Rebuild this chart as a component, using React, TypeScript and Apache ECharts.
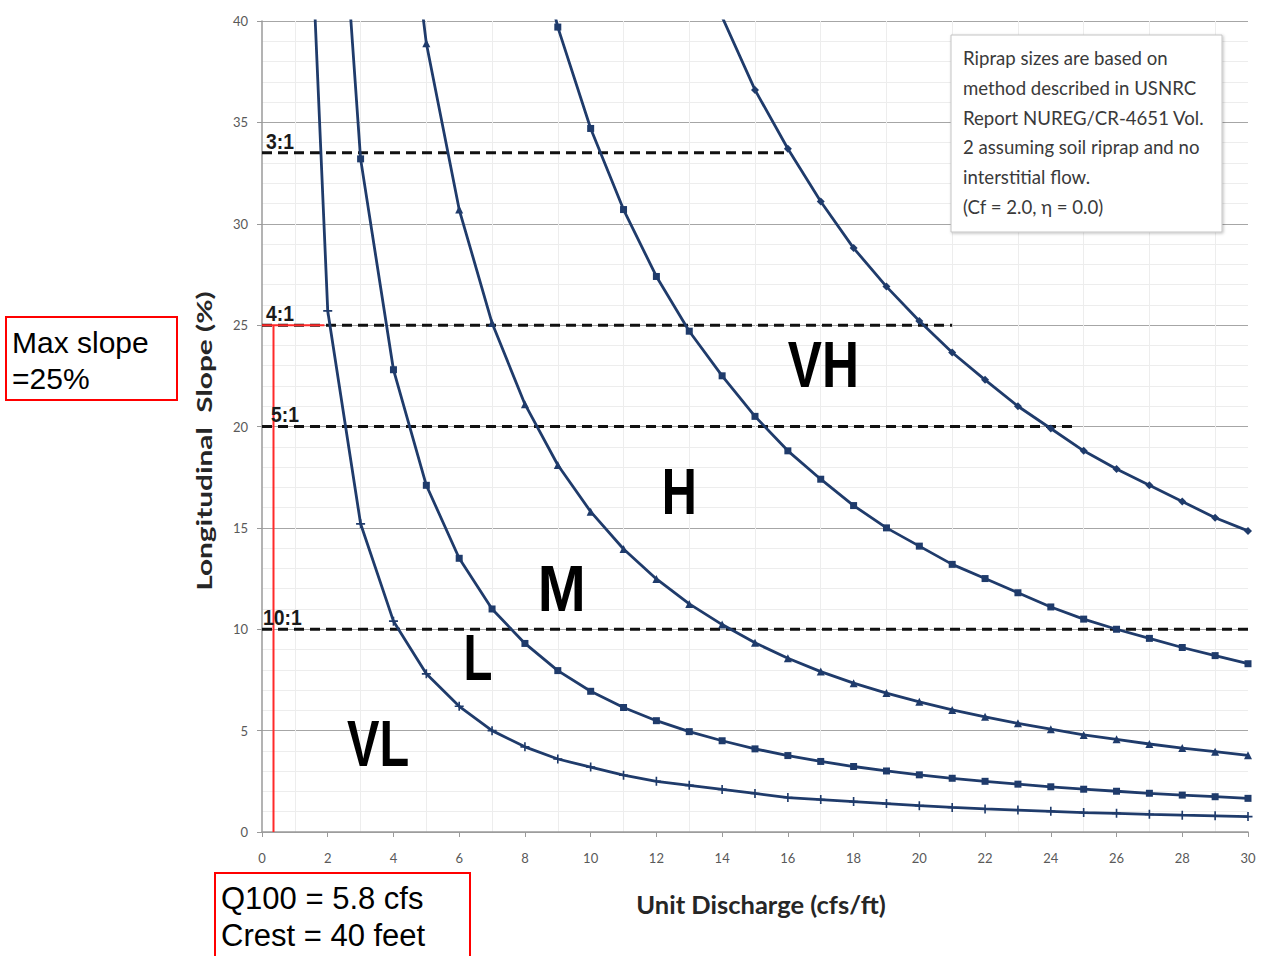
import React, { useEffect, useRef } from "react";
import * as echarts from "echarts";

// Unit discharge (cfs/ft) at which each curve is sampled
const xValues = [1, 2, 3, 4, 5, 6, 7, 8, 9, 10, 11, 12, 13, 14, 15, 16, 17, 18, 19, 20, 21, 22, 23, 24, 25, 26, 27, 28, 29, 30];

// Boundary curves (longitudinal slope %)
const curveVL = [63.3, 25.7, 15.2, 10.4, 7.8, 6.2, 5.0, 4.2, 3.6, 3.2, 2.8, 2.5, 2.3, 2.1, 1.9, 1.7, 1.6, 1.5, 1.4, 1.3, 1.21, 1.14, 1.08, 1.02, 0.96, 0.92, 0.87, 0.83, 0.8, 0.76];
const curveL = [138.5, 56.3, 33.2, 22.8, 17.1, 13.5, 11.0, 9.3, 7.96, 6.94, 6.14, 5.49, 4.95, 4.5, 4.1, 3.77, 3.48, 3.23, 3.01, 2.82, 2.65, 2.5, 2.36, 2.23, 2.11, 2.01, 1.91, 1.82, 1.74, 1.66];
const curveM = [315, 128, 75.5, 52.0, 38.9, 30.7, 25.1, 21.1, 18.1, 15.8, 13.96, 12.48, 11.25, 10.23, 9.33, 8.57, 7.91, 7.34, 6.85, 6.42, 6.02, 5.68, 5.36, 5.07, 4.79, 4.57, 4.34, 4.14, 3.96, 3.78];
const curveH = [692, 281, 166, 114, 85.4, 67.4, 55.1, 46.3, 39.7, 34.7, 30.7, 27.4, 24.7, 22.5, 20.5, 18.8, 17.4, 16.1, 15.0, 14.1, 13.2, 12.5, 11.8, 11.1, 10.5, 10.0, 9.55, 9.1, 8.7, 8.3];
const curveVH = [1237, 502, 297, 204, 153, 120, 98.6, 82.9, 71.1, 62.0, 54.8, 49.0, 44.2, 40.2, 36.6, 33.7, 31.1, 28.8, 26.9, 25.2, 23.65, 22.3, 21.0, 19.9, 18.8, 17.9, 17.1, 16.3, 15.5, 14.85];

// Slope ratio reference lines
const ratioLabels = ["3:1", "4:1", "5:1", "10:1"];
const ratioSlopes = [33.5, 25, 20, 10];
const ratioEnds = [16, 21, 24.7, 30];

// Riprap size zone labels
const zoneLabels = ["VL", "L", "M", "H", "VH"];
const zoneX = [3.53, 6.57, 9.12, 12.7, 17.08];
const zoneY = [4.33, 8.57, 12.0, 16.75, 23.05];

// Site annotation (red)
const siteQ = 0.35;
const siteMaxSlope = 25;
const siteCurveX = 1.9;

const noteLines = [
  "Riprap sizes are based on",
  "method described in USNRC",
  "Report NUREG/CR-4651 Vol.",
  "2 assuming soil riprap and no",
  "interstitial flow.",
  "(Cf = 2.0, \u03b7 = 0.0)",
];

const NAVY = "#1f3b6b";
const PLUS = "path://M0,4.1H10V5.9H0Z M4.1,0H5.9V10H4.1Z";

export default function App() {
  const ref = useRef<HTMLDivElement>(null);

  useEffect(() => {
    const chart = echarts.init(ref.current!, null, { renderer: "svg" });

    const curves = [
      { name: "VL/L", data: curveVL, symbol: PLUS, size: 9 },
      { name: "L/M", data: curveL, symbol: "rect", size: 7 },
      { name: "M/H", data: curveM, symbol: "triangle", size: 8 },
      { name: "H/VH", data: curveH, symbol: "rect", size: 7 },
      { name: "VH", data: curveVH, symbol: "diamond", size: 8 },
    ];

    const series: any[] = [];
    ratioSlopes.forEach((s, i) => {
      series.push({
        type: "line",
        name: ratioLabels[i],
        data: [[0, s], [ratioEnds[i], s]],
        symbol: "none",
        silent: true,
        z: 3,
        lineStyle: { color: "#111", width: 3, type: [10, 6] },
      });
    });
    curves.forEach((c) => {
      series.push({
        type: "line",
        name: c.name,
        data: xValues.map((x, i) => [x, c.data[i]]),
        symbol: c.symbol,
        symbolSize: c.size,
        showSymbol: true,
        clip: true,
        z: 4,
        lineStyle: { color: NAVY, width: 2.8 },
        itemStyle: { color: NAVY },
      });
    });
    series.push({
      type: "line",
      name: "site-v",
      data: [[siteQ, 0], [siteQ, siteMaxSlope]],
      symbol: "none",
      silent: true,
      z: 5,
      lineStyle: { color: "#ff2a2a", width: 2 },
    });
    series.push({
      type: "line",
      name: "site-h",
      data: [[0, siteMaxSlope], [siteCurveX, siteMaxSlope]],
      symbol: "none",
      silent: true,
      z: 5,
      lineStyle: { color: "#ff2a2a", width: 2 },
    });

    const option: any = {
      animation: false,
      backgroundColor: "#fff",
      grid: { left: 262, right: 13, top: 21, bottom: 124 },
      xAxis: {
        type: "value",
        min: 0,
        max: 30,
        interval: 2,
        name: "Unit Discharge (cfs/ft)",
        nameLocation: "middle",
        nameGap: 59,
        nameTextStyle: { fontFamily: "Lato", fontWeight: "bold", fontSize: 25.5, color: "#262626", padding: [0, 0, 0, 12] },
        axisLine: { show: true, lineStyle: { color: "#9a9a9a", width: 1.5 } },
        axisTick: { show: true, length: 5, lineStyle: { color: "#9a9a9a" } },
        axisLabel: { margin: 19, fontFamily: "Lato", fontSize: 13, color: "#595959" },
        splitLine: { show: false },
        minorTick: { show: false, splitNumber: 2 },
        minorSplitLine: { show: true, lineStyle: { color: "#ededed", width: 1 } },
      },
      yAxis: {
        type: "value",
        min: 0,
        max: 40,
        interval: 5,
        axisLine: { show: true, lineStyle: { color: "#9a9a9a", width: 1.5 } },
        axisTick: { show: true, length: 5, lineStyle: { color: "#9a9a9a" } },
        axisLabel: { margin: 14, fontFamily: "Lato", fontSize: 13, color: "#595959" },
        splitLine: { show: true, lineStyle: { color: "#a6a6a6", width: 1 } },
        minorTick: { show: false, splitNumber: 5 },
        minorSplitLine: { show: true, lineStyle: { color: "#ededed", width: 1 } },
      },
      series,
    };
    chart.setOption(option);

    const px = (x: number, y: number) => chart.convertToPixel({ gridIndex: 0 }, [x, y]) as number[];

    const graphics: any[] = [];
    // y axis title (stretched along its length as in the source)
    graphics.push({
      type: "text",
      z: 50,
      x: 204,
      y: 441,
      rotation: Math.PI / 2,
      scaleX: 1.42,
      style: { text: "Longitudinal  Slope (%)", fontFamily: "Lato", fontWeight: "bold", fontSize: 21, fill: "#262626", textAlign: "center", textVerticalAlign: "middle" },
    });
    // note box
    graphics.push({
      type: "rect",
      z: 100,
      shape: { x: 951, y: 35, width: 271, height: 197 },
      style: { fill: "#fff", stroke: "#c4c4c4", lineWidth: 1, shadowBlur: 3, shadowColor: "rgba(0,0,0,0.25)", shadowOffsetX: 1, shadowOffsetY: 1 },
    });
    noteLines.forEach((t, i) => {
      graphics.push({
        type: "text",
        z: 101,
        x: 963,
        y: 58 + i * 29.8,
        style: { text: t, fontFamily: "Lato", fontSize: 18.6, fill: "#3a3a3a", textAlign: "left", textVerticalAlign: "middle" },
      });
    });
    // ratio labels
    ratioSlopes.forEach((s, i) => {
      const p = px(0, s);
      graphics.push({
        type: "text",
        z: 50,
        x: p[0] + (i === 2 ? 9 : i === 3 ? 1 : 4),
        y: p[1] - 1,
        scaleX: 0.88,
        style: { text: ratioLabels[i], fontFamily: "Liberation Sans", fontWeight: "bold", fontSize: 22, fill: "#1a1a1a", textAlign: "left", textVerticalAlign: "bottom" },
      });
    });
    // zone labels
    const zoneScale = [0.76, 0.74, 0.9, 0.76, 0.8];
    zoneLabels.forEach((t, i) => {
      const p = px(zoneX[i], zoneY[i]);
      graphics.push({
        type: "text",
        z: 50,
        x: p[0],
        y: p[1],
        scaleX: zoneScale[i],
        style: { text: t, fontFamily: "Liberation Sans", fontWeight: "bold", fontSize: 64, fill: "#000", textAlign: "center", textVerticalAlign: "middle" },
      });
    });
    // red annotation boxes
    graphics.push({
      type: "rect",
      z: 100,
      shape: { x: 6, y: 317, width: 171, height: 83 },
      style: { fill: "#fff", stroke: "#ff0000", lineWidth: 2 },
    });
    graphics.push({
      type: "text", z: 101, x: 12, y: 342,
      style: { text: "Max slope", fontFamily: "Liberation Sans", fontSize: 30, fill: "#000", textAlign: "left", textVerticalAlign: "middle" },
    });
    graphics.push({
      type: "text", z: 101, x: 12, y: 378,
      style: { text: "=25%", fontFamily: "Liberation Sans", fontSize: 30, fill: "#000", textAlign: "left", textVerticalAlign: "middle" },
    });
    graphics.push({
      type: "rect",
      z: 100,
      shape: { x: 215, y: 873, width: 255, height: 100 },
      style: { fill: "#fff", stroke: "#ff0000", lineWidth: 2 },
    });
    graphics.push({
      type: "text", z: 101, x: 221, y: 898,
      style: { text: "Q100 = 5.8 cfs", fontFamily: "Liberation Sans", fontSize: 31, fill: "#000", textAlign: "left", textVerticalAlign: "middle" },
    });
    graphics.push({
      type: "text", z: 101, x: 221, y: 935,
      style: { text: "Crest = 40 feet", fontFamily: "Liberation Sans", fontSize: 31, fill: "#000", textAlign: "left", textVerticalAlign: "middle" },
    });

    chart.setOption({ graphic: graphics });

    return () => chart.dispose();
  }, []);

  return (
    <div
      ref={ref}
      style={{ position: "absolute", left: 0, top: 0, width: 1261, height: 956, background: "#fff" }}
    />
  );
}
